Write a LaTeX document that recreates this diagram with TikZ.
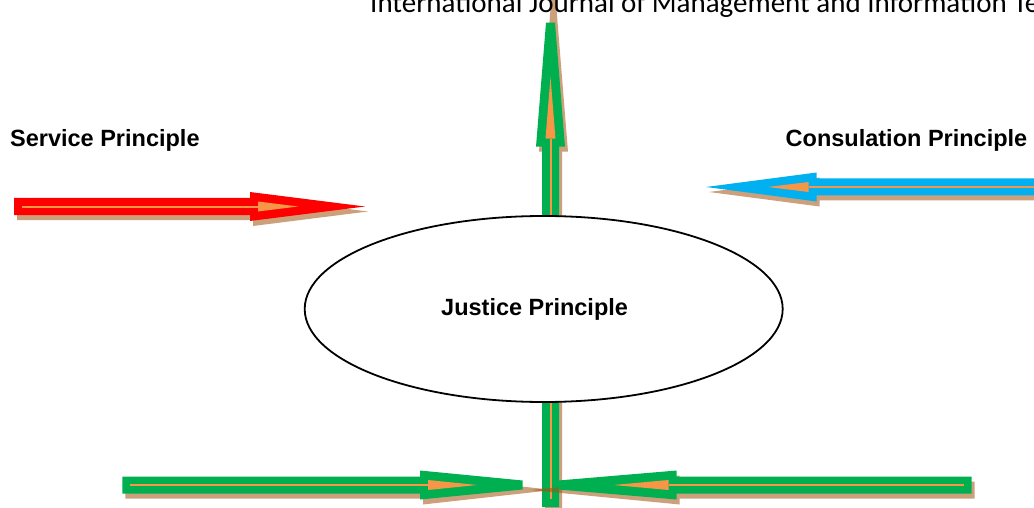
\documentclass[tikz,border=0pt]{standalone}
\usepackage{fontspec}
\setmainfont{Liberation Sans}
\newfontfamily\headfont{Carlito}
\usetikzlibrary{shapes.geometric}

\definecolor{arrowred}{HTML}{FF0000}
\definecolor{arrowblue}{HTML}{00B0F0}
\definecolor{arrowgreen}{HTML}{00B050}
\definecolor{innerorange}{HTML}{F79646}
\definecolor{shadowbrown}{RGB}{164,82,18}

% Block arrow with a drop shadow, drawn along the local x axis.
% #1 start point, #2 rotation, #3 colour, #4 head back, #5 tip,
% #6 half-width of the blunt tip, #7 shadow tip, #8 inner triangle length
\newcommand{\blockarrow}[8]{%
  \begin{scope}[shift={(3,5)}]
    \begin{scope}[shift={#1},rotate=#2]
      \fill[shadowbrown,opacity=0.55] (0,-8.5) -- (#4,-8.5) -- (#4,-14.5) -- (#7,0)
        -- (#4,14.5) -- (#4,8.5) -- (0,8.5) -- cycle;
    \end{scope}
  \end{scope}
  \begin{scope}[shift={#1},rotate=#2]
    \fill[#3] (0,-8.5) -- (#4,-8.5) -- (#4,-14.5) -- (#5,-#6) -- (#5,#6)
      -- (#4,14.5) -- (#4,8.5) -- (0,8.5) -- cycle;
    \draw[innerorange,line width=2] (8,0) -- ({#4+8},0);
    \fill[innerorange] ({#4+8},-5) -- ({#4+8+#8},0) -- ({#4+8},5) -- cycle;
  \end{scope}
}

\tikzset{
  principle/.style={font=\bfseries\fontsize{23.5}{28}\selectfont, inner sep=0, anchor=base west},
}

\begin{document}
\begin{tikzpicture}[x=1pt,y=-1pt]
  \useasboundingbox (0,0) rectangle (1034,508);
  \clip (0,0) rectangle (1034,508);
  \fill[white] (0,0) rectangle (1034,508);

  % vertical arrow pointing up through the ellipse
  \blockarrow{(550.5,507)}{90}{arrowgreen}{360.3}{484.3}{4.5}{540}{62}
  % service arrow (left, pointing right)
  \blockarrow{(14,206.5)}{0}{arrowred}{236}{351}{0}{351}{40}
  % consultation arrow (right, pointing left)
  \blockarrow{(1042,187)}{180}{arrowblue}{225.3}{336}{0}{336}{41}
  % two lower arrows meeting at the vertical shaft
  \blockarrow{(122.3,485)}{0}{arrowgreen}{297.7}{400.4}{4.5}{427.7}{49}
  \blockarrow{(971.7,485)}{180}{arrowgreen}{295}{413.4}{4.5}{444.7}{55}

  % central ellipse
  \node[ellipse, draw=black, fill=white, line width=1.8, minimum width=478,
        minimum height=186, inner sep=0] (justice) at (543.7,309) {};
  \node[principle] (justicelabel) at (441,315) {Justice Principle};

  \node[principle] (service) at (10,146.7) {Service Principle};
  \node[principle] (consult) at (785.5,146.7) {Consulation Principle};

  % running head
  \node[font=\headfont\fontsize{29}{34}\selectfont, inner sep=0, anchor=base west]
    (header) at (370,13) {International Journal of Management and Information Technology};
\end{tikzpicture}
\end{document}
